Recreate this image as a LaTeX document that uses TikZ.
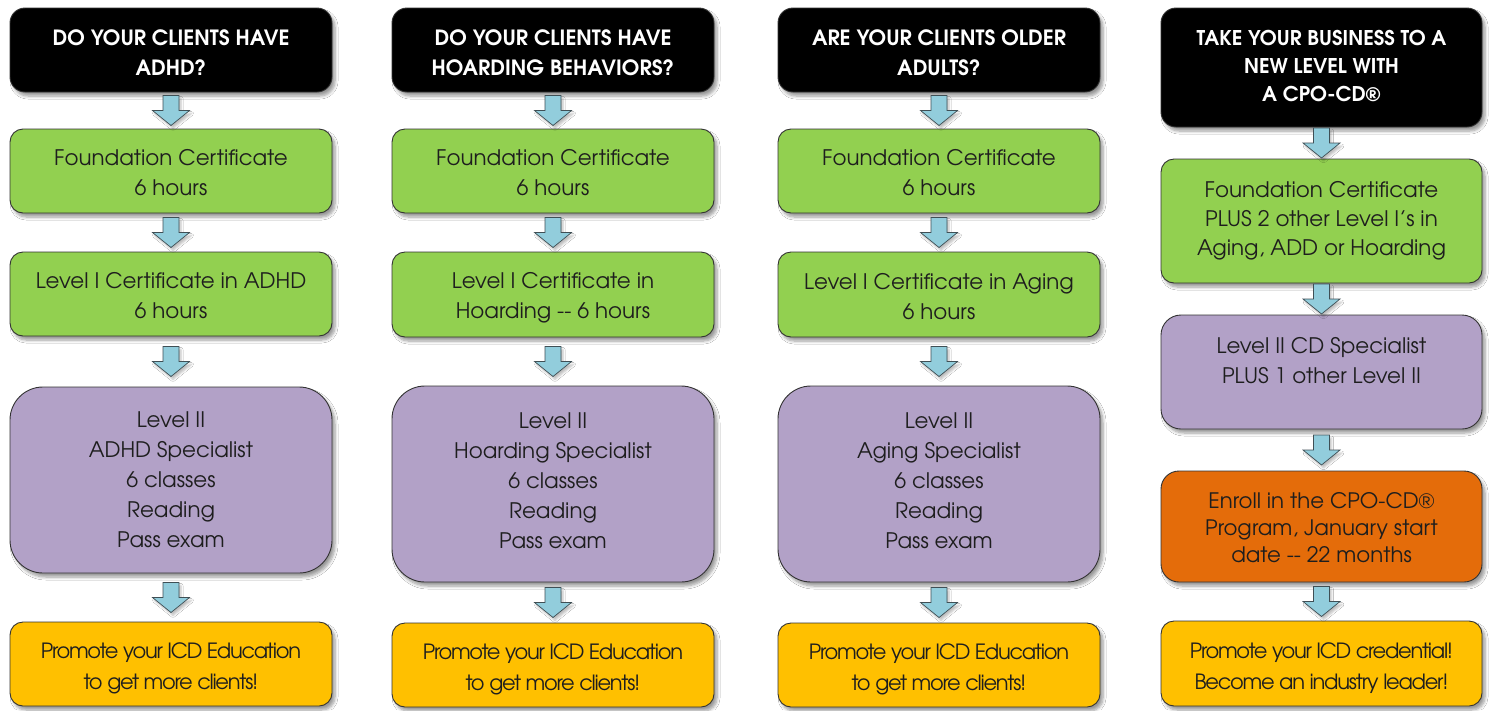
\documentclass[tikz,border=0pt]{standalone}
\usepackage{fontspec}
\setmainfont{texgyreadventor}[Extension=.otf, UprightFont=*-regular, BoldFont=*-bold, ItalicFont=*-italic, BoldItalicFont=*-bolditalic]
\newfontfamily\tightfont{texgyreadventor}[Extension=.otf, UprightFont=*-regular, LetterSpace=-6]
\usetikzlibrary{calc,shadows,shadows.blur}
\definecolor{grn}{HTML}{92D050}
\definecolor{prp}{HTML}{B2A1C7}
\definecolor{org}{HTML}{E46C0A}
\definecolor{ylw}{HTML}{FFC000}
\definecolor{arw}{HTML}{92CDDC}
\definecolor{arwedge}{HTML}{3F4F55}
\definecolor{edge}{HTML}{333333}
\definecolor{txt}{HTML}{1E1E1E}
\tikzset{
  box/.style={draw=edge, line width=0.9pt, rounded corners=13pt, minimum width=322pt, inner sep=0pt,
    blur shadow={shadow xshift=3pt, shadow yshift=-4pt, shadow opacity=40, shadow blur radius=3pt, shadow blur steps=6}},
  hdr/.style={box, fill=black, rounded corners=15pt},
  grnbox/.style={box, fill=grn},
  prpbox/.style={box, fill=prp, rounded corners=33pt},
  orgbox/.style={box, fill=org, rounded corners=18pt},
  ylwbox/.style={box, fill=ylw},
  lbl/.style={align=center, text=txt, inner sep=0pt, font=\fontsize{21.4}{30}\selectfont},
  hdrlbl/.style={lbl, text=white, font=\bfseries\fontsize{21}{30}\selectfont},
  ylwlbl/.style={lbl, font=\tightfont\fontsize{21}{31}\selectfont},
  flow/.style={fill=arw, draw=arwedge, line width=0.7pt,
    blur shadow={shadow xshift=2pt, shadow yshift=-3pt, shadow opacity=25, shadow blur radius=2pt, shadow blur steps=4}}
}
\newcommand\flowarrow[2]{%
  \path ($(#1.south)!0.5!(#2.north)$) coordinate (m);
  \draw[flow] ($(m)+(-8,-15)$) -- ($(m)+(8,-15)$) -- ($(m)+(8,0)$) -- ($(m)+(18.5,0)$)
    -- ($(m)+(0,15)$) -- ($(m)+(-18.5,0)$) -- ($(m)+(-8,0)$) -- cycle;}
\begin{document}
\begin{tikzpicture}[x=1pt,y=-1pt]
\useasboundingbox[fill=white] (0,0) rectangle (1491,710);
% ---------- boxes
\node[hdr, minimum height=84pt] (h1) at (171,50) {};
\node[grnbox, minimum height=84pt] (f1) at (171,171) {};
\node[grnbox, minimum height=84pt] (l1) at (171,294) {};
\node[prpbox, minimum height=186pt] (p1) at (171,480) {};
\node[ylwbox, minimum height=84pt] (y1) at (171,664) {};
\node[hdr, minimum height=84pt] (h2) at (553,50) {};
\node[grnbox, minimum height=84pt] (f2) at (553,171) {};
\node[grnbox, minimum height=85pt] (l2) at (553,294.5) {};
\node[prpbox, minimum height=196pt] (p2) at (553,484) {};
\node[ylwbox, minimum height=84pt] (y2) at (553,665) {};
\node[hdr, minimum height=84pt] (h3) at (939,50) {};
\node[grnbox, minimum height=84pt] (f3) at (939,171) {};
\node[grnbox, minimum height=85pt] (l3) at (939,294.5) {};
\node[prpbox, minimum height=196pt] (p3) at (939,484) {};
\node[ylwbox, minimum height=84pt] (y3) at (939,665) {};
\node[hdr, minimum height=119pt, minimum width=321pt] (h4) at (1321.5,67.5) {};
\node[grnbox, minimum height=124pt, minimum width=321pt] (f4) at (1321.5,221) {};
\node[prpbox, minimum height=114pt, minimum width=321pt, rounded corners=20pt] (p4) at (1321.5,372) {};
\node[orgbox, minimum height=111pt, minimum width=321pt] (o4) at (1321.5,526.5) {};
\node[ylwbox, minimum height=85pt, minimum width=321pt] (y4) at (1321.5,663.5) {};
% ---------- texts
\node[hdrlbl] (h1t) at ([yshift=-3pt]h1.center) {DO YOUR CLIENTS HAVE\\ADHD?};
\node[lbl] (f1t) at ([yshift=-2pt]f1.center) {Foundation Certificate\\6 hours};
\node[lbl] (l1t) at ([yshift=-2pt]l1.center) {Level I Certificate in ADHD\\6 hours};
\node[lbl] (p1t) at (p1.center) {Level II\\ADHD Specialist\\6 classes\\Reading\\Pass exam};
\node[ylwlbl] (y1t) at ([yshift=-4pt]y1.center) {Promote your ICD Education\\to get more clients!};
\node[hdrlbl] (h2t) at ([yshift=-3pt]h2.center) {DO YOUR CLIENTS HAVE\\HOARDING BEHAVIORS?};
\node[lbl] (f2t) at ([yshift=-2pt]f2.center) {Foundation Certificate\\6 hours};
\node[lbl] (l2t) at ([yshift=-3pt]l2.center) {Level I Certificate in\\Hoarding -{}- 6 hours};
\node[lbl] (p2t) at ([yshift=3pt]p2.center) {Level II\\Hoarding Specialist\\6 classes\\Reading\\Pass exam};
\node[ylwlbl] (y2t) at ([yshift=-4pt]y2.center) {Promote your ICD Education\\to get more clients!};
\node[hdrlbl] (h3t) at ([yshift=-3pt]h3.center) {ARE YOUR CLIENTS OLDER\\ADULTS?};
\node[lbl] (f3t) at ([yshift=-2pt]f3.center) {Foundation Certificate\\6 hours};
\node[lbl] (l3t) at ([yshift=-2pt]l3.center) {Level I Certificate in Aging\\6 hours};
\node[lbl] (p3t) at ([yshift=3pt]p3.center) {Level II\\Aging Specialist\\6 classes\\Reading\\Pass exam};
\node[ylwlbl] (y3t) at ([yshift=-4pt]y3.center) {Promote your ICD Education\\to get more clients!};
\node[hdrlbl, font=\bfseries\fontsize{20.3}{28}\selectfont] (h4t) at ([yshift=1.5pt]h4.center) {TAKE YOUR BUSINESS TO A\\NEW LEVEL WITH\\A CPO-CD®};
\node[lbl, font=\fontsize{21.4}{29}\selectfont] (f4t) at (f4.center) {Foundation Certificate\\PLUS 2 other Level I’s in\\Aging, ADD or Hoarding};
\node[lbl] (p4t) at ([yshift=11pt]p4.center) {Level II CD Specialist\\PLUS 1 other Level II};
\node[lbl, font=\fontsize{21.3}{27}\selectfont] (o4t) at ([yshift=-1pt]o4.center) {Enroll in the CPO-CD®\\Program, January start\\date -{}- 22 months};
\node[ylwlbl] (y4t) at ([yshift=-4.5pt]y4.center) {Promote your ICD credential!\\Become an industry leader!};
% ---------- arrows
\flowarrow{h1}{f1}\flowarrow{f1}{l1}\flowarrow{l1}{p1}\flowarrow{p1}{y1}
\flowarrow{h2}{f2}\flowarrow{f2}{l2}\flowarrow{l2}{p2}\flowarrow{p2}{y2}
\flowarrow{h3}{f3}\flowarrow{f3}{l3}\flowarrow{l3}{p3}\flowarrow{p3}{y3}
\flowarrow{h4}{f4}\flowarrow{f4}{p4}\flowarrow{p4}{o4}\flowarrow{o4}{y4}
\end{tikzpicture}
\end{document}
